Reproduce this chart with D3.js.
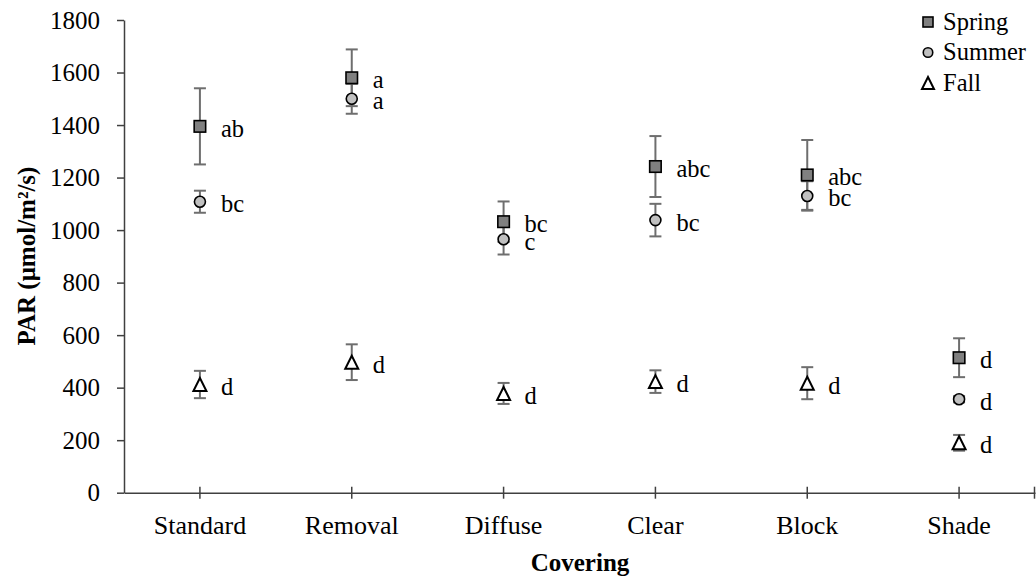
<!DOCTYPE html>
<html lang="en">
<head>
  <meta charset="UTF-8">
  <title>PAR by covering</title>
  <script src="https://cdnjs.cloudflare.com/ajax/libs/d3/7.8.5/d3.min.js"></script>
  <style>
    body { margin: 0; background: white; }
    svg { display: block; }
    .axis path, .axis line { stroke: #404040; stroke-width: 1.5; }
    .err { stroke: #6e6e6e; stroke-width: 2; }
    .lbl { font-size: 24.5px; fill: #000; }
  </style>
</head>
<body>
  <div id="chart"></div>
  <script>
    // data
    const categories = ["Standard", "Removal", "Diffuse", "Clear", "Block", "Shade"];
    const yTicks = [0, 200, 400, 600, 800, 1000, 1200, 1400, 1600, 1800];

    const springMean = [1395, 1580, 1032, 1242, 1210, 514];
    const springErr  = [145, 108, 77, 116, 133, 74];
    const springLetters = ["ab", "a", "bc", "abc", "abc", "d"];

    const summerMean = [1108, 1500, 965, 1038, 1130, 356];
    const summerErr  = [42, 57, 58, 62, 56, 12];
    const summerLetters = ["bc", "a", "c", "bc", "bc", "d"];

    const fallMean = [412, 497, 378, 423, 417, 190];
    const fallErr  = [52, 68, 40, 43, 61, 30];
    const fallLetters = ["d", "d", "d", "d", "d", "d"];

    const series = [
      { name: "Spring", mean: springMean, err: springErr, letters: springLetters, shape: "square" },
      { name: "Summer", mean: summerMean, err: summerErr, letters: summerLetters, shape: "circle" },
      { name: "Fall", mean: fallMean, err: fallErr, letters: fallLetters, shape: "triangle" }
    ];

    const FONT = "'Liberation Serif', 'Times New Roman', serif";
    const W = 1036, H = 578;
    const margin = { top: 20, right: 0, bottom: 85.3, left: 124 };

    const svg = d3.select("#chart").append("svg")
      .attr("width", W)
      .attr("height", H)
      .attr("font-family", FONT);

    const x = d3.scaleBand().domain(categories).range([margin.left, W - 1]).padding(0);
    const y = d3.scaleLinear().domain([0, 1800]).range([H - margin.bottom, margin.top]);
    const cx = c => x(c) + x.bandwidth() / 2;

    // y axis
    const yAxis = svg.append("g")
      .attr("class", "axis")
      .attr("transform", `translate(${margin.left},0)`)
      .call(d3.axisLeft(y).tickValues(yTicks).tickFormat(d3.format("d"))
        .tickSizeOuter(0).tickSizeInner(7).tickPadding(17));
    yAxis.attr("font-family", FONT).attr("font-size", 25);
    yAxis.selectAll("text").attr("fill", "#000");

    // x axis, ticks cross the line
    const xAxis = svg.append("g")
      .attr("class", "axis")
      .attr("transform", `translate(0,${y(0)})`)
      .call(d3.axisBottom(x).tickSizeOuter(0).tickSizeInner(6).tickPadding(17));
    xAxis.attr("font-family", FONT).attr("font-size", 26);
    xAxis.selectAll("text").attr("fill", "#000");
    xAxis.selectAll(".tick line").attr("y1", -6);
    xAxis.append("line")
      .attr("x1", W - 1.5).attr("x2", W - 1.5)
      .attr("y1", -6).attr("y2", 6);

    // axis titles
    svg.append("text")
      .attr("x", (margin.left + W) / 2)
      .attr("y", 571)
      .attr("text-anchor", "middle")
      .attr("font-size", 25)
      .attr("font-weight", "bold")
      .text("Covering");

    svg.append("text")
      .attr("transform", "translate(35,256) rotate(-90)")
      .attr("text-anchor", "middle")
      .attr("font-size", 25)
      .attr("font-weight", "bold")
      .text("PAR (μmol/m²/s)");

    function drawMarker(g, shape, px, py, s) {
      if (shape === "square") {
        g.append("rect")
          .attr("x", px - s / 2).attr("y", py - s / 2)
          .attr("width", s).attr("height", s)
          .attr("fill", "#808080").attr("stroke", "#000").attr("stroke-width", 1.6);
      } else if (shape === "circle") {
        g.append("circle")
          .attr("cx", px).attr("cy", py).attr("r", s / 2)
          .attr("fill", "#c0c0c0").attr("stroke", "#000").attr("stroke-width", 1.6);
      } else {
        const h = s;
        g.append("path")
          .attr("d", `M${px},${py - h / 2}L${px + s / 2},${py + h / 2}L${px - s / 2},${py + h / 2}Z`)
          .attr("fill", "#fff").attr("stroke", "#000").attr("stroke-width", 2);
      }
    }

    const sizes = { square: 11.5, circle: 11, triangle: 13 };

    // error bars first
    const errG = svg.append("g");
    series.forEach(s => {
      categories.forEach((c, i) => {
        const px = cx(c);
        const top = y(s.mean[i] + s.err[i]);
        const bot = y(s.mean[i] - s.err[i]);
        errG.append("line").attr("class", "err").attr("x1", px).attr("x2", px).attr("y1", top).attr("y2", bot);
        errG.append("line").attr("class", "err").attr("x1", px - 6).attr("x2", px + 6).attr("y1", top).attr("y2", top);
        errG.append("line").attr("class", "err").attr("x1", px - 6).attr("x2", px + 6).attr("y1", bot).attr("y2", bot);
      });
    });

    // markers and letters
    const markG = svg.append("g");
    series.forEach(s => {
      categories.forEach((c, i) => {
        const px = cx(c);
        const py = y(s.mean[i]);
        drawMarker(markG, s.shape, px, py, sizes[s.shape]);
        markG.append("text")
          .attr("class", "lbl")
          .attr("x", px + 21)
          .attr("y", py + 10.5)
          .text(s.letters[i]);
      });
    });

    // legend
    const legendY = [22, 52.5, 83];
    const legendSizes = { square: 10, circle: 9.5, triangle: 12 };
    const legG = svg.append("g");
    series.forEach((s, i) => {
      drawMarker(legG, s.shape, 928, legendY[i], legendSizes[s.shape]);
      legG.append("text")
        .attr("class", "lbl")
        .attr("x", 943)
        .attr("y", legendY[i] + 7.5)
        .text(s.name);
    });
  </script>
</body>
</html>
